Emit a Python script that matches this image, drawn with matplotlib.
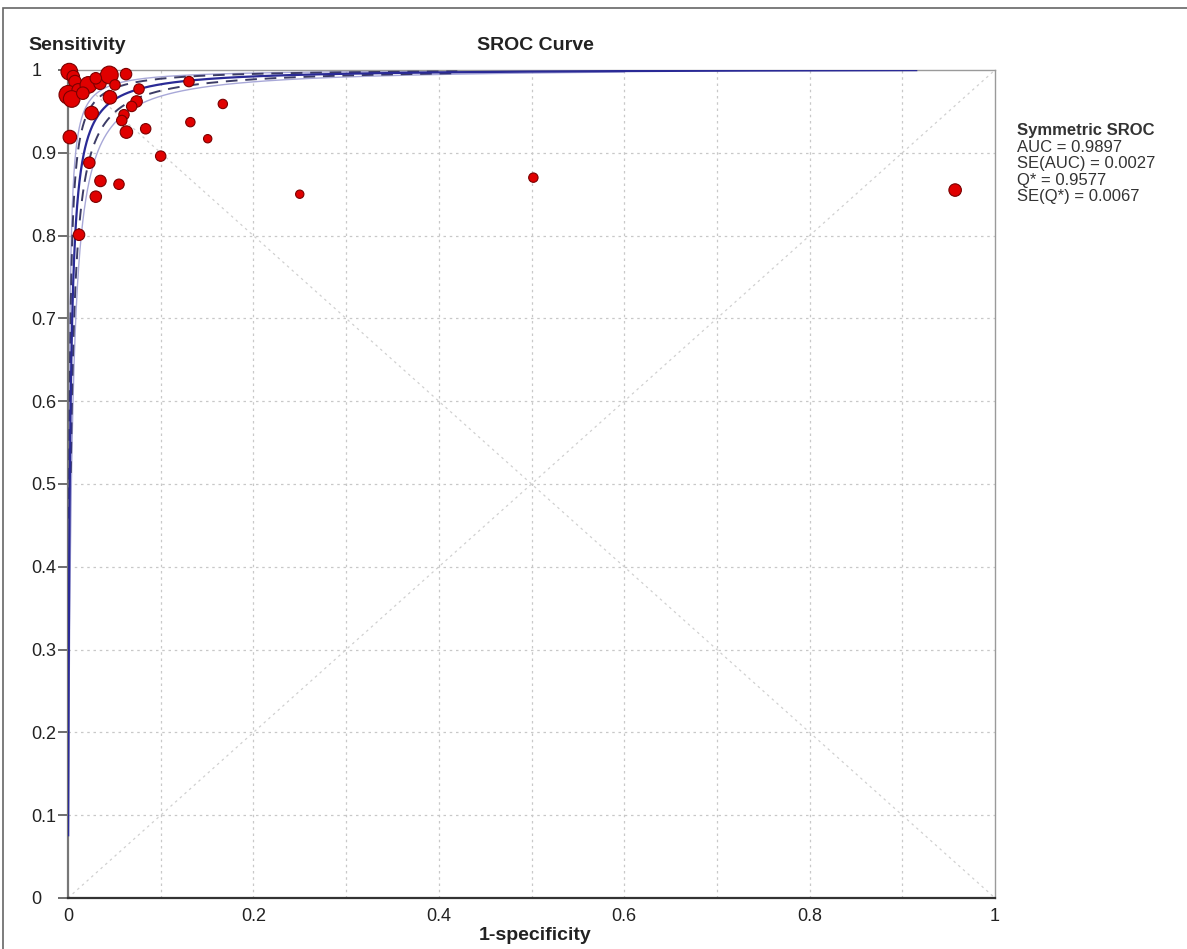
import numpy as np
from matplotlib import pyplot as plt
from matplotlib.patches import Rectangle

plt.rcParams['font.family'] = ['Liberation Sans', 'DejaVu Sans']

# study points (1-specificity, sensitivity) and marker diameter in px
fpr = [0.0014, 0.0057, 0.0076, 0.0004, 0.011, 0.022, 0.0345, 0.0446, 0.0507, 0.0626,
       0.0453, 0.0255, 0.002, 0.0766, 0.074, 0.0687, 0.0604, 0.058, 0.063, 0.0838,
       0.1305, 0.132, 0.167, 0.1507, 0.100, 0.023, 0.035, 0.055, 0.030, 0.0119,
       0.250, 0.502, 0.957, 0.004, 0.016, 0.030]
tpr = [0.998, 0.992, 0.986, 0.970, 0.976, 0.982, 0.984, 0.994, 0.982, 0.995,
       0.967, 0.948, 0.919, 0.977, 0.962, 0.956, 0.946, 0.939, 0.925, 0.929,
       0.986, 0.937, 0.959, 0.917, 0.896, 0.888, 0.866, 0.862, 0.847, 0.801,
       0.850, 0.870, 0.855, 0.965, 0.972, 0.990]
diam = [16, 12, 12, 18, 12, 16, 12, 17, 10, 11,
        13, 13, 13, 10, 11, 10, 10, 10, 12, 10,
        10, 9, 9, 8, 10, 11, 11, 10, 11, 11,
        8, 9, 12, 16, 12, 11]

# summary stats
auc = 0.9897
se_auc = 0.0027
q_star = 0.9577
se_q = 0.0067

legend_lines = ["AUC = %.4f" % auc, "SE(AUC) = %.4f" % se_auc,
                "Q* = %.4f" % q_star, "SE(Q*) = %.4f" % se_q]

def logit(p):
    return np.log(p / (1 - p))

# symmetric SROC: logit(TPR) = D + logit(FPR), D from Q*
D = 2 * logit(q_star)

def sroc(d, x0, x1):
    x = np.logspace(np.log10(x0), np.log10(x1), 400)
    y = 1 / (1 + np.exp(-(d + logit(x))))
    return x, y

fig = plt.figure(figsize=(11.87, 9.49), dpi=100)
ax = fig.add_axes([68/1187, 51/949, 927/1187, 828/949])

# grid + diagonals
for v in np.arange(0.1, 1.0, 0.1):
    ax.axvline(v, color='#c8c8c8', lw=0.9, ls=(0, (2, 3)), zorder=0)
    ax.axhline(v, color='#c8c8c8', lw=0.9, ls=(0, (2, 3)), zorder=0)
ax.plot([0, 1], [0, 1], color='#d0d0d0', lw=0.9, ls=(0, (2, 3)), zorder=0)
ax.plot([0, 1], [1, 0], color='#d0d0d0', lw=0.9, ls=(0, (2, 3)), zorder=0)

# curves
for d in [D - 0.62, D + 0.75]:
    x, y = sroc(d, 2e-4, 0.6)
    ax.plot(x, y, color='#a8a8d8', lw=1.0, zorder=2)
for d in [D - 0.38, D + 0.5]:
    x, y = sroc(d, 3e-3 if d < D else 1e-3, 0.42)
    ax.plot(x, y, color='#3c3c66', lw=1.4, ls=(0, (6, 4)), zorder=3)
x, y = sroc(D, 1.6e-4, 0.915)
ax.plot(x, y, color='#2a2a96', lw=1.6, zorder=3)

# studies
ax.scatter(fpr, tpr, s=[(d * 0.75) ** 2 for d in diam], color='#e00000',
           edgecolors='#7a0000', linewidths=0.8, zorder=5, clip_on=False)

ax.set_xlim(0, 1)
ax.set_ylim(0, 1)
ax.set_xticks(np.arange(0, 1.01, 0.2))
ax.set_xticklabels(['0', '0.2', '0.4', '0.6', '0.8', '1'])
ax.set_yticks(np.arange(0, 1.01, 0.1))
ax.set_yticklabels(['0', '0.1', '0.2', '0.3', '0.4', '0.5', '0.6', '0.7', '0.8', '0.9', '1'])
ax.tick_params(axis='x', length=0, pad=7, labelsize=13, labelcolor='#222222')
ax.tick_params(axis='y', length=7, width=1.2, color='#555555', pad=19.5, labelsize=13,
               labelcolor='#222222')
for lab in ax.get_yticklabels():
    lab.set_horizontalalignment('left')

ax.spines['left'].set_color('#777777')
ax.spines['left'].set_linewidth(1.6)
ax.spines['bottom'].set_color('#333333')
ax.spines['bottom'].set_linewidth(1.6)
for s in ['top', 'right']:
    ax.spines[s].set_color('#9a9a9a')
    ax.spines[s].set_linewidth(1.0)

fig.text(28/1187, 1 - 45/949, 'Sensitivity', fontsize=14, fontweight='bold', va='center', color='#222222')
fig.text(535/1187, 1 - 45/949, 'SROC Curve', fontsize=14, fontweight='bold', va='center', ha='center',
         color='#222222')
fig.text(535/1187, 1 - 936/949, '1-specificity', fontsize=14, fontweight='bold', va='center', ha='center',
         color='#222222')

fig.text(1017/1187, 1 - 130/949, 'Symmetric SROC', fontsize=12, fontweight='bold', va='center', color='#333333')
for i, t in enumerate(legend_lines):
    fig.text(1017/1187, 1 - (147 + 16.5 * i)/949, t, fontsize=12, va='center', color='#333333')

fig.patches.append(Rectangle((3/1187, -0.01), 1.2, 1 - 8/949 + 0.01, transform=fig.transFigure,
                             fill=False, edgecolor='#666666', lw=1.2))

fig.savefig('out.png', dpi=100)
